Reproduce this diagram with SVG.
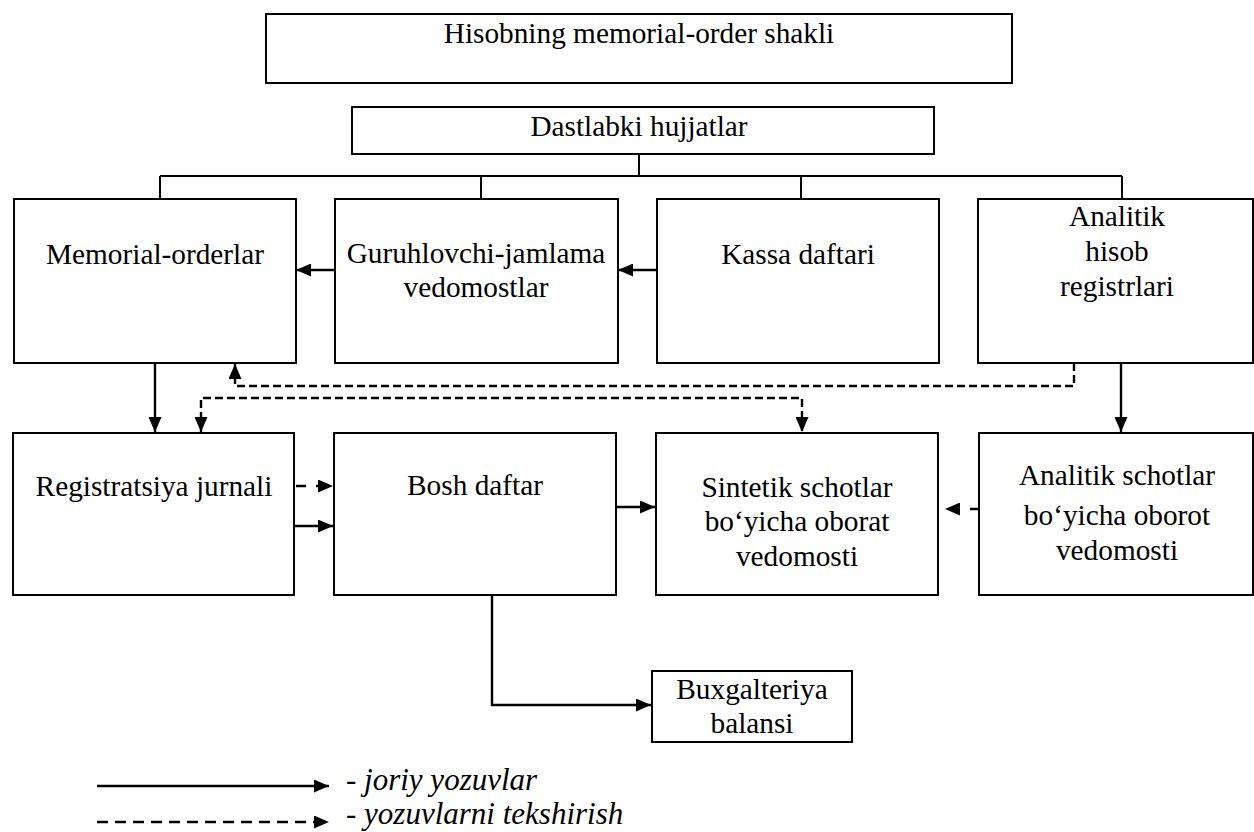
<svg xmlns="http://www.w3.org/2000/svg" width="1254" height="832" viewBox="0 0 1254 832">
<defs>
<style>
.box{fill:#fff;stroke:#000;stroke-width:2}
.t{font-family:"Liberation Serif","Times New Roman",serif;font-size:29.3px;fill:#000;text-anchor:middle}
.lg{font-family:"Liberation Serif","Times New Roman",serif;font-size:31px;font-style:italic;fill:#000}
.ln{fill:none;stroke:#000;stroke-width:2}
.sd{fill:none;stroke:#000;stroke-width:2.4}
.ds{fill:none;stroke:#000;stroke-width:2.4}
</style>
<marker id="ah" viewBox="0 0 15 13" refX="15" refY="6.5" markerWidth="15" markerHeight="13" markerUnits="userSpaceOnUse" orient="auto-start-reverse">
<path d="M0,0 L15,6.5 L0,13 z" fill="#000"/>
</marker>
</defs>
<rect width="1254" height="832" fill="#fff"/>

<g id="connectors">
<path class="ln" d="M639,154 V176 M160,176 H1122 M160,176 V199 M481,176 V199 M801,176 V199 M1122,176 V199"/>
<path class="sd" d="M336,270 H296" marker-end="url(#ah)"/>
<path class="sd" d="M658,270 H618" marker-end="url(#ah)"/>
<path class="sd" d="M155,363 V432" marker-end="url(#ah)"/>
<path class="sd" d="M1121,363 V432" marker-end="url(#ah)"/>
<path class="ds" style="stroke-dasharray:8 4" d="M1074,363 V386 H235 V364" marker-end="url(#ah)"/>
<path class="ds" style="stroke-dasharray:8 4" d="M201,432 V398 H802 V432" marker-start="url(#ah)" marker-end="url(#ah)"/>
<path class="ds" style="stroke-dasharray:10 10" d="M296,486 H333" marker-end="url(#ah)"/>
<path class="sd" d="M295,526 H333" marker-end="url(#ah)"/>
<path class="sd" d="M616,507 H655" marker-end="url(#ah)"/>
<path class="ds" style="stroke-dasharray:9 10" d="M979,509 H945" marker-end="url(#ah)"/>
<path class="sd" d="M492,595 V705 H651" marker-end="url(#ah)"/>
</g>

<g id="n-top"><rect class="box" x="266" y="14" width="746" height="69"/><text class="t" x="639" y="43">Hisobning memorial-order shakli</text></g>
<g id="n-dastlabki"><rect class="box" x="352" y="107" width="582" height="47"/><text class="t" x="639" y="136">Dastlabki hujjatlar</text></g>

<g id="n-memorial"><rect class="box" x="14" y="199" width="282" height="164"/><text class="t" x="155" y="264">Memorial-orderlar</text></g>
<g id="n-guruh"><rect class="box" x="335" y="199" width="283" height="164"/><text class="t" x="476" y="263">Guruhlovchi-jamlama</text><text class="t" x="476" y="297">vedomostlar</text></g>
<g id="n-kassa"><rect class="box" x="657" y="199" width="282" height="164"/><text class="t" x="798" y="264">Kassa daftari</text></g>
<g id="n-analitik1"><rect class="box" x="978" y="199" width="275" height="164"/><text class="t" x="1117" y="226">Analitik</text><text class="t" x="1117" y="261">hisob</text><text class="t" x="1117" y="296">registrlari</text></g>

<g id="n-registratsiya"><rect class="box" x="13" y="433" width="281" height="162"/><text class="t" x="154" y="496">Registratsiya jurnali</text></g>
<g id="n-bosh"><rect class="box" x="334" y="433" width="282" height="162"/><text class="t" x="475" y="495">Bosh daftar</text></g>
<g id="n-sintetik"><rect class="box" x="656" y="433" width="282" height="162"/><text class="t" x="797" y="497">Sintetik schotlar</text><text class="t" x="797" y="531">bo‘yicha oborat</text><text class="t" x="797" y="566">vedomosti</text></g>
<g id="n-analitik2"><rect class="box" x="979" y="433" width="274" height="162"/><text class="t" x="1117" y="485">Analitik schotlar</text><text class="t" x="1117" y="525">bo‘yicha oborot</text><text class="t" x="1117" y="560">vedomosti</text></g>

<g id="n-buxgalteriya"><rect class="box" x="652" y="671" width="200" height="71"/><text class="t" x="752" y="699">Buxgalteriya</text><text class="t" x="752" y="733">balansi</text></g>

<g id="legend">
<path class="sd" d="M97,786 H329" marker-end="url(#ah)"/>
<text class="lg" x="346" y="790">- joriy yozuvlar</text>
<path class="ds" style="stroke-dasharray:11 7" d="M97,822 H329" marker-end="url(#ah)"/>
<text class="lg" x="346" y="824">- yozuvlarni tekshirish</text>
</g>
</svg>
